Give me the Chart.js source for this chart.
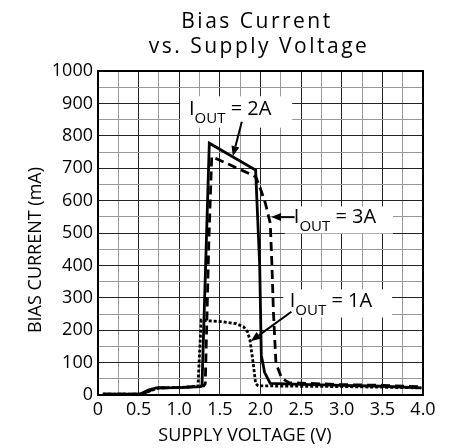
<!DOCTYPE html>
<html>
<head>
<meta charset="utf-8">
<script src="https://cdn.jsdelivr.net/npm/chart.js@4"></script>
<style>
  html, body { margin: 0; padding: 0; background: #fff; }
  canvas { display: block; }
</style>
</head>
<body>
<canvas id="c" width="455" height="448"></canvas>
<script>
// ---- data (V, mA) ----
const volts2A = [0.06, 0.52, 0.62, 0.72, 1.0, 1.26, 1.28, 1.37, 1.94, 1.99, 2.01, 2.05, 2.12, 2.5, 3.0, 3.5, 3.98];
const mA2A    = [3,    3,    15,   22,   23,  26,   30,   777,  694,  400,  123,  70,   36,   33,  30,  27,  22];

const volts3A = [0.06, 0.55, 0.65, 0.75, 1.0, 1.3, 1.32, 1.365, 1.40, 1.94, 1.99, 2.06, 2.12, 2.14, 2.16, 2.19, 2.26, 2.35, 3.0, 3.5, 3.98];
const mA3A    = [3,    3,    15,   22,   23,  28,  35,   480,   736,  674,  643,  592,  530,  406,  252,  98,   52,   38,   32,  30,  25];

const volts1A = [0.06, 0.55, 0.65, 0.75, 1.0, 1.23, 1.27, 1.30, 1.54, 1.70, 1.79, 1.84, 1.87, 1.91, 1.94, 1.97, 2.1, 2.5, 3.0, 3.5, 3.98];
const mA1A    = [3,    3,    14,   22,   23,  27,   231,  230,  226,  220,  211,  195,  170,  98,   36,   28,   28,  27,  26,  24,  22];

const xTicks = [0, 0.5, 1.0, 1.5, 2.0, 2.5, 3.0, 3.5, 4.0];
const yTicks = [0, 100, 200, 300, 400, 500, 600, 700, 800, 900, 1000];

// label boxes in data units
const labels = [
  { box: [1.01, 2.39, 922, 825], text: [1.12, 864], arrow: [1.77, 843, 1.66, 737], amp: "2A" },
  { box: [2.30, 3.63, 582, 498], text: [2.41, 530], arrow: [2.42, 549, 2.13, 549], amp: "3A" },
  { box: [2.28, 3.62, 326, 239], text: [2.36, 273], arrow: [2.38, 257, 1.88, 166], amp: "1A" }
];

function pts(xs, ys) { return xs.map((x, i) => ({ x, y: ys[i] })); }

const FONT = "'Open Sans', 'Liberation Sans', sans-serif";

function arrow(ctx, x0, y0, x1, y1) {
  const a = Math.atan2(y1 - y0, x1 - x0);
  const L = 10, W = 4;
  ctx.beginPath();
  ctx.moveTo(x0, y0);
  ctx.lineTo(x1 - Math.cos(a) * L, y1 - Math.sin(a) * L);
  ctx.lineWidth = 2;
  ctx.strokeStyle = "#000";
  ctx.stroke();
  ctx.beginPath();
  ctx.moveTo(x1, y1);
  ctx.lineTo(x1 - Math.cos(a) * L - Math.sin(a) * W, y1 - Math.sin(a) * L + Math.cos(a) * W);
  ctx.lineTo(x1 - Math.cos(a) * L + Math.sin(a) * W, y1 - Math.sin(a) * L - Math.cos(a) * W);
  ctx.closePath();
  ctx.fillStyle = "#000";
  ctx.fill();
}

const decor = {
  id: "decor",
  afterDatasetsDraw(chart) {
    const { ctx, scales: { x, y } } = chart;
    ctx.save();
    labels.forEach(l => {
      const [v0, v1, t, b] = l.box;
      const px0 = x.getPixelForValue(v0), px1 = x.getPixelForValue(v1);
      const py0 = y.getPixelForValue(t), py1 = y.getPixelForValue(b);
      ctx.fillStyle = "#fff";
      ctx.fillRect(px0, py0, px1 - px0, py1 - py0);
      const tx = x.getPixelForValue(l.text[0]), ty = y.getPixelForValue(l.text[1]);
      ctx.fillStyle = "#000";
      ctx.textAlign = "left";
      ctx.textBaseline = "alphabetic";
      ctx.font = "20px " + FONT;
      ctx.fillText("I", tx, ty);
      let w = ctx.measureText("I").width;
      ctx.font = "15px " + FONT;
      ctx.fillText("OUT", tx + w, ty + 8);
      w += ctx.measureText("OUT").width;
      ctx.font = "20px " + FONT;
      ctx.fillText(" = " + l.amp, tx + w, ty);
      const [a0, a1, a2, a3] = l.arrow;
      arrow(ctx, x.getPixelForValue(a0), y.getPixelForValue(a1), x.getPixelForValue(a2), y.getPixelForValue(a3));
    });
    ctx.restore();
  },
  afterDraw(chart) {
    const { ctx, chartArea: ca } = chart;
    ctx.save();
    ctx.strokeStyle = "#000";
    ctx.lineWidth = 2;
    ctx.strokeRect(ca.left, ca.top, ca.right - ca.left, ca.bottom - ca.top);
    ctx.fillStyle = "#000";
    ctx.textAlign = "center";
    ctx.textBaseline = "alphabetic";
    ctx.font = "21px " + FONT;
    ctx.letterSpacing = "2.5px";
    ctx.fillText("Bias Current", 257, 28);
    ctx.fillText("vs. Supply Voltage", 259, 53);
    ctx.letterSpacing = "0px";
    ctx.font = "18px " + FONT;
    ctx.fillText("SUPPLY VOLTAGE (V)", 245, 441);
    ctx.translate(35, 250);
    ctx.rotate(-Math.PI / 2);
    ctx.fillText("BIAS CURRENT (mA)", 0, 6);
    ctx.restore();
  }
};

const near = (v, step) => Math.abs(v / step - Math.round(v / step)) < 1e-6;

new Chart(document.getElementById("c"), {
  type: "line",
  data: {
    datasets: [
      { label: "IOUT = 2A", data: pts(volts2A, mA2A), borderColor: "#000", borderWidth: 2.8, pointRadius: 0, tension: 0 },
      { label: "IOUT = 3A", data: pts(volts3A, mA3A), borderColor: "#000", borderWidth: 2.8, borderDash: [9, 5], pointRadius: 0, tension: 0 },
      { label: "IOUT = 1A", data: pts(volts1A, mA1A), borderColor: "#000", borderWidth: 2.8, borderDash: [3, 2], pointRadius: 0, tension: 0 }
    ]
  },
  options: {
    responsive: false,
    animation: false,
    devicePixelRatio: 1,
    layout: { padding: { top: 71, right: 32, left: 0, bottom: 0 } },
    plugins: { legend: { display: false }, tooltip: { enabled: false } },
    scales: {
      x: {
        type: "linear", min: 0, max: 4,
        afterFit: s => { s.height = 53; },
        border: { display: false },
        grid: {
          color: c => near(c.tick.value, 0.5) ? "#222" : "#999",
          lineWidth: 1, drawTicks: false
        },
        ticks: {
          stepSize: 0.25, autoSkip: false, maxRotation: 0, padding: 4,
          color: "#000", font: { family: FONT, size: 18 },
          callback: v => xTicks.includes(v) ? (v === 0 ? "0" : v.toFixed(1)) : ""
        }
      },
      y: {
        min: 0, max: 1000,
        afterFit: s => { s.width = 98; },
        border: { display: false },
        grid: {
          color: c => near(c.tick.value, 100) ? "#222" : "#999",
          lineWidth: 1, drawTicks: false
        },
        ticks: {
          stepSize: 50, autoSkip: false, padding: 5,
          color: "#000", font: { family: FONT, size: 18 },
          callback: v => yTicks.includes(v) ? String(v) : ""
        }
      }
    }
  },
  plugins: [decor]
});
</script>
</body>
</html>
